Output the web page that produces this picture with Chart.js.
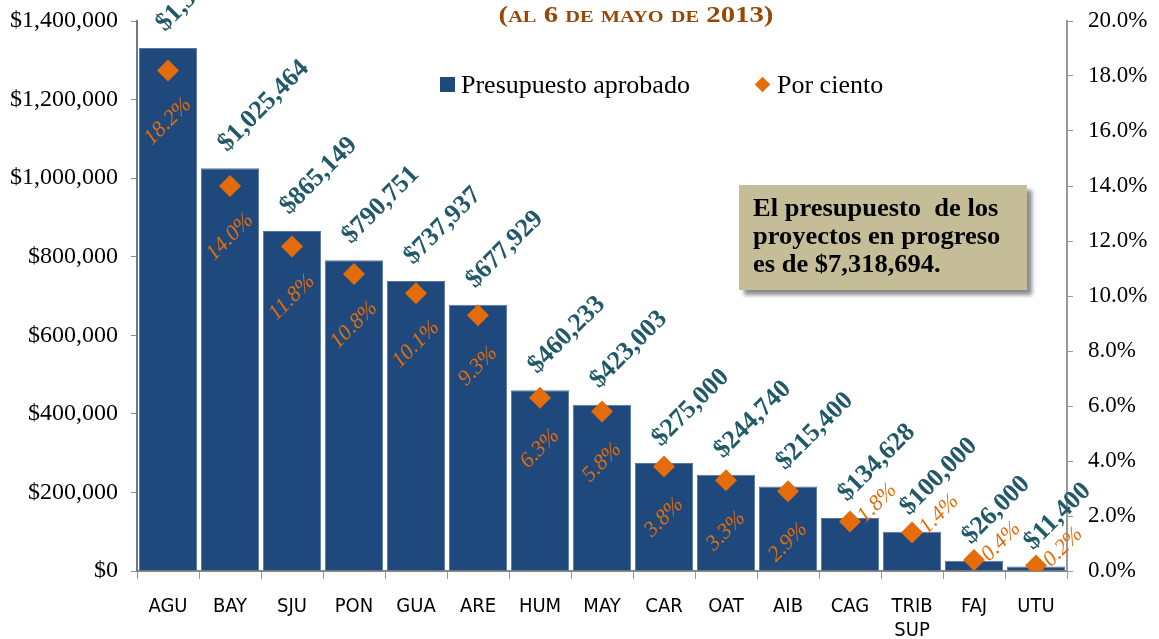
<!DOCTYPE html>
<html lang="es">
<head>
<meta charset="utf-8">
<title>Presupuesto aprobado por región</title>
<script src="https://cdn.jsdelivr.net/npm/chart.js@4/dist/chart.umd.min.js"></script>
<style>
  body { margin: 0; background: #fff; }
  #wrap { position: relative; width: 1159px; height: 639px; }
  #titulo {
    position: absolute; left: 436px; width: 400px; top: 1px; text-align: center;
    font: bold 24px "Liberation Serif", "Times New Roman", serif;
    font-variant: small-caps; color: #984806;
    transform: scaleX(1.2); transform-origin: center;
  }
  .leyenda {
    position: absolute; top: 70px; font: 26px "Liberation Serif", "Times New Roman", serif; color: #000;
    white-space: nowrap;
  }
  .cuadro { display: inline-block; width: 15px; height: 15px; background: #1F497D; margin-right: 6px; vertical-align: 1px; }
  .rombo { display: inline-block; width: 11px; height: 11px; background: #E46C0A; transform: rotate(45deg); margin-right: 9px; vertical-align: 3px; }
  #nota {
    position: absolute; left: 739px; top: 185px; width: 288px; height: 105px; box-sizing: border-box;
    background: #C4BD97; box-shadow: 5px 5px 4px rgba(0,0,0,0.45);
    padding: 9px 0 0 14px;
  }
  #nota div {
    font: bold 25px/28px "Liberation Serif", "Times New Roman", serif; color: #000; white-space: pre;
    transform: scaleX(1.06); transform-origin: left;
  }
</style>
</head>
<body>
<div id="wrap">
  <canvas id="grafica" width="1159" height="639"></canvas>
  <div id="titulo">(al 6 de mayo de 2013)</div>
  <div class="leyenda" style="left:440px"><span class="cuadro"></span>Presupuesto aprobado</div>
  <div class="leyenda" style="left:757px"><span class="rombo"></span>Por ciento</div>
  <div id="nota"><div>El presupuesto  de los
proyectos en progreso
es de $7,318,694.</div></div>
</div>
<script>
const regiones = ["AGU", "BAY", "SJU", "PON", "GUA", "ARE", "HUM", "MAY", "CAR", "OAT", "AIB", "CAG", ["TRIB", "SUP"], "FAJ", "UTU"];
const presupuesto = [1331060, 1025464, 865149, 790751, 737937, 677929, 460233, 423003, 275000, 244740, 215400, 134628, 100000, 26000, 11400];
const porCiento = [18.2, 14.0, 11.8, 10.8, 10.1, 9.3, 6.3, 5.8, 3.8, 3.3, 2.9, 1.8, 1.4, 0.4, 0.2];
const ticksDolares = [0, 200000, 400000, 600000, 800000, 1000000, 1200000, 1400000];
const ticksPorCiento = [0, 2, 4, 6, 8, 10, 12, 14, 16, 18, 20];

const AZUL = "#1F497D";
const NARANJA = "#E46C0A";
const VERDE_AZUL = "#215968";
const serif = "'Liberation Serif', 'Times New Roman', serif";

const dinero = (v) => "$" + v.toLocaleString("en-US");

// tamaño fijo de cada eje, sin el relleno extra que Chart.js reserva para la última etiqueta
const ajustarEje = (ancho, alto) => (s) => {
  if (ancho) s.width = ancho;
  if (alto) s.height = alto;
  s.paddingTop = 0;
  s.paddingBottom = 0;
  s.paddingLeft = 0;
  s.paddingRight = 0;
};

// etiquetas giradas: monto encima de cada barra y porcentaje junto al rombo
const etiquetas = {
  id: "etiquetas",
  afterDatasetsDraw(chart) {
    const ctx = chart.ctx;
    const barras = chart.getDatasetMeta(1).data;
    const puntos = chart.getDatasetMeta(0).data;
    ctx.save();
    barras.forEach((b, i) => {
      ctx.save();
      ctx.translate(b.x - 3, b.y - 16);
      ctx.rotate(-Math.PI / 4);
      ctx.font = "bold 26px " + serif;
      ctx.fillStyle = VERDE_AZUL;
      ctx.textAlign = "left";
      ctx.textBaseline = "alphabetic";
      ctx.fillText(dinero(presupuesto[i]), 0, 0);
      ctx.restore();
    });
    puntos.forEach((p, i) => {
      ctx.save();
      ctx.font = "italic 22px " + serif;
      ctx.fillStyle = NARANJA;
      const txt = porCiento[i].toFixed(1) + "%";
      if (i < 11) {
        // dentro de la barra, debajo del rombo
        ctx.translate(p.x, p.y + 51);
        ctx.rotate(-Math.PI / 4);
        ctx.textAlign = "center";
        ctx.textBaseline = "middle";
      } else {
        // barras bajas: a la derecha del rombo
        ctx.translate(p.x + 15, p.y + 2);
        ctx.rotate(-Math.PI / 4);
        ctx.textAlign = "left";
        ctx.textBaseline = "alphabetic";
      }
      ctx.fillText(txt, 0, 0);
      ctx.restore();
    });
    ctx.restore();
  }
};

new Chart(document.getElementById("grafica"), {
  data: {
    labels: regiones,
    datasets: [
      {
        type: "line",
        label: "Por ciento",
        data: porCiento,
        yAxisID: "y1",
        showLine: false,
        pointStyle: "rectRot",
        pointRadius: 11,
        backgroundColor: NARANJA,
        borderColor: NARANJA,
        borderWidth: 0,
        order: 1
      },
      {
        type: "bar",
        label: "Presupuesto aprobado",
        data: presupuesto,
        yAxisID: "y",
        backgroundColor: AZUL,
        borderColor: "#5577a3",
        borderWidth: 1,
        barPercentage: 0.94,
        categoryPercentage: 1,
        order: 2
      }
    ]
  },
  options: {
    responsive: false,
    animation: false,
    layout: { padding: { top: 21, left: 0, right: 0, bottom: 0 } },
    plugins: { legend: { display: false }, tooltip: { enabled: false } },
    scales: {
      x: {
        grid: { offset: true, drawOnChartArea: false, tickLength: 8, color: "#999" },
        border: { color: "#888", width: 2 },
        ticks: { color: "#000", padding: 16, font: { family: "'Liberation Sans Narrow', 'DejaVu Sans Condensed', sans-serif", size: 20 } },
        afterFit: ajustarEje(0, 68)
      },
      y: {
        position: "left",
        min: 0,
        max: 1400000,
        afterBuildTicks(s) { s.ticks = ticksDolares.map((v) => ({ value: v })); },
        grid: { drawOnChartArea: false, tickLength: 6, color: "#888" },
        border: { color: "#6d7a8c", width: 2 },
        ticks: { color: "#000", padding: 13, callback: (v) => dinero(v), font: { family: serif, size: 24 } },
        afterFit: ajustarEje(137, 0)
      },
      y1: {
        position: "right",
        min: 0,
        max: 20,
        afterBuildTicks(s) { s.ticks = ticksPorCiento.map((v) => ({ value: v })); },
        grid: { drawOnChartArea: false, tickLength: 6, color: "#999" },
        border: { color: "#999", width: 2 },
        ticks: { color: "#000", padding: 15, callback: (v) => v.toFixed(1) + "%", font: { family: serif, size: 23 } },
        afterFit: ajustarEje(92, 0)
      }
    }
  },
  plugins: [etiquetas]
});
</script>
</body>
</html>
